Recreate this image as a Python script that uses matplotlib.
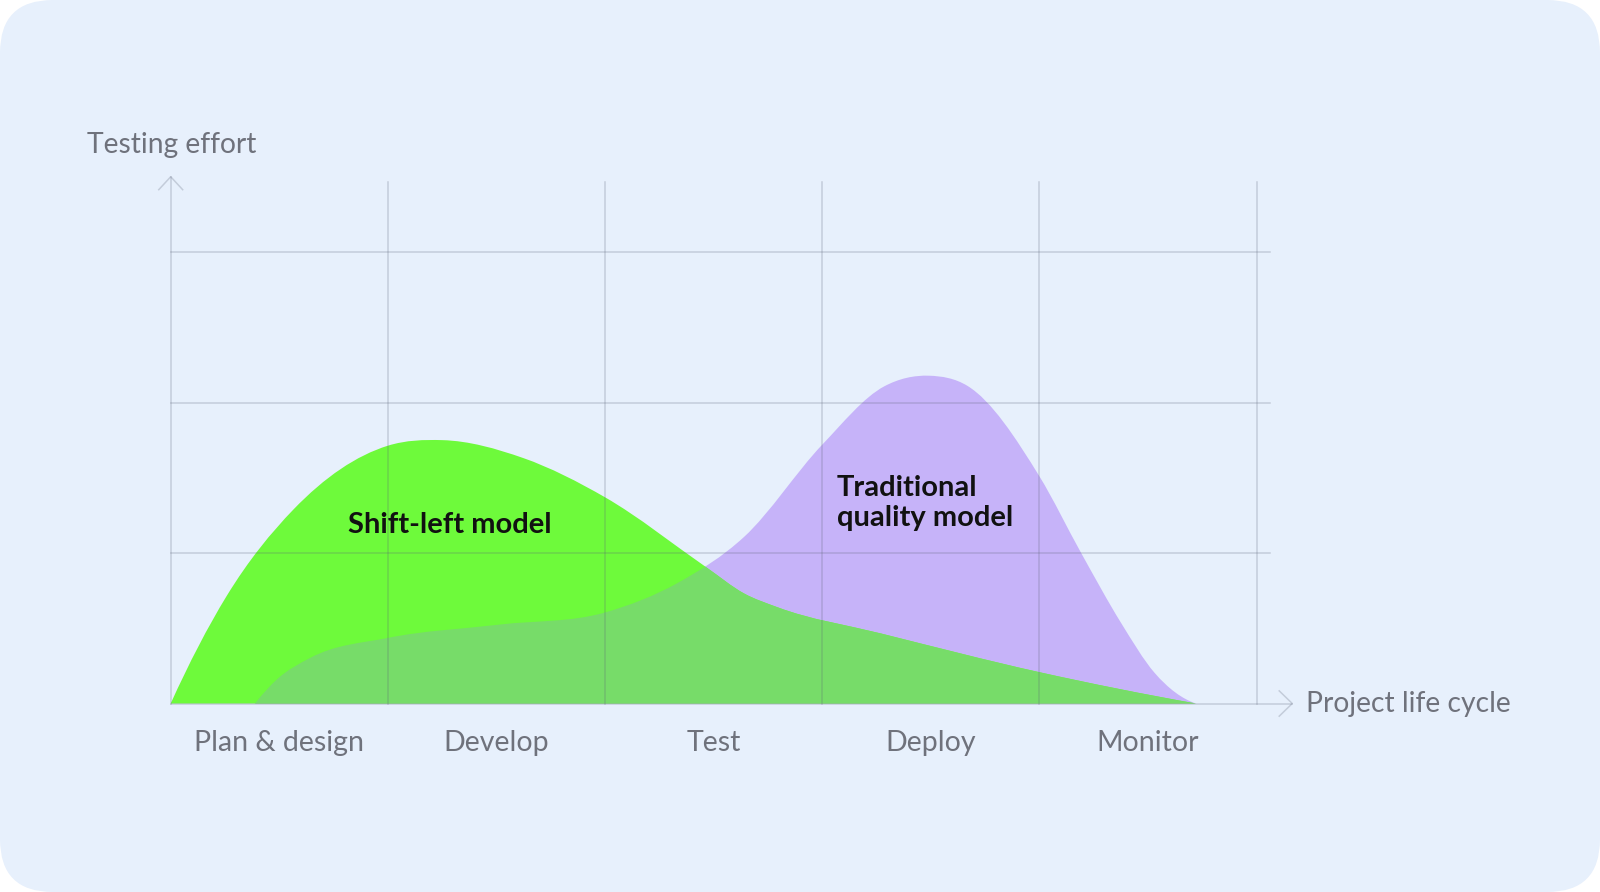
import numpy as np
import matplotlib.pyplot as plt
from matplotlib.path import Path
from matplotlib.patches import PathPatch, FancyBboxPatch

# values (x: phase units, y: grid units)
phases = ["Plan & design", "Develop", "Test", "Deploy", "Monitor"]

shift_x = [0, 0.257, 0.565, 1.0, 1.25, 1.623, 2.0, 2.467, 2.64, 2.793, 3.271, 4.0, 4.721]
shift_y = [0, 0.713, 1.289, 1.713, 1.75, 1.631, 1.37, 0.904, 0.731, 0.64, 0.465, 0.208, 0]

trad_x = [0.388, 0.488, 0.642, 1.0, 1.518, 2.0, 2.333, 2.64, 3.0, 3.285, 3.492,
          3.669, 4.0, 4.192, 4.376, 4.53, 4.721]
trad_y = [0, 0.159, 0.303, 0.436, 0.525, 0.605, 0.80, 1.107, 1.72, 2.107, 2.178,
          2.11, 1.509, 1.0, 0.535, 0.204, 0]

BG = '#E7F0FC'
GREEN = '#6EFA3B'
GREEN_DARK = '#77DC69'
PURPLE = '#C6B3F9'
GRID = '#5A6275'
TXT = '#6F727C'


def area_path(xs, ys):
    # smooth outline through the read points, closed along the baseline
    xs = np.asarray(xs, float)
    ys = np.asarray(ys, float)
    m = np.gradient(ys, xs, edge_order=2)
    verts = [(xs[0], ys[0])]
    codes = [Path.MOVETO]
    for i in range(len(xs) - 1):
        dx = xs[i + 1] - xs[i]
        verts += [(xs[i] + dx / 3, ys[i] + m[i] * dx / 3),
                  (xs[i + 1] - dx / 3, ys[i + 1] - m[i + 1] * dx / 3),
                  (xs[i + 1], ys[i + 1])]
        codes += [Path.CURVE4] * 3
    verts += [(xs[-1], 0), (xs[0], 0), (xs[0], 0)]
    codes += [Path.LINETO, Path.LINETO, Path.CLOSEPOLY]
    return Path(verts, codes)


fig = plt.figure(figsize=(16, 8.92), dpi=100)
fig.patch.set_facecolor('white')
bg = FancyBboxPatch((0, 0), 1, 1, boxstyle='round,pad=0,rounding_size=0.033',
                    mutation_aspect=1600 / 892, transform=fig.transFigure,
                    facecolor=BG, edgecolor='none', zorder=-10)
fig.patches.append(bg)

ax = fig.add_axes([0.1067, 0.2113, 0.6787, 0.5062])
ax.set_xlim(0, 5)
ax.set_ylim(0, 3)
ax.axis('off')

# areas
ax.add_patch(PathPatch(area_path(trad_x, trad_y), facecolor=PURPLE, edgecolor='none', zorder=1))
green = PathPatch(area_path(shift_x, shift_y), facecolor=GREEN, edgecolor='none', zorder=2)
ax.add_patch(green)
overlap = PathPatch(area_path(trad_x, trad_y), facecolor=GREEN_DARK, edgecolor='none', zorder=3)
ax.add_patch(overlap)
overlap.set_clip_path(green)

# grid
for gx in range(1, 6):
    ax.plot([gx, gx], [0, 3.467], color=GRID, alpha=0.25, lw=1.1, zorder=5, clip_on=False)
for gy in range(1, 4):
    ax.plot([0, 5.06], [gy, gy], color=GRID, alpha=0.25, lw=1.1, zorder=5, clip_on=False)

# axes with arrow heads
ax.plot([0, 5.164], [0, 0], color=GRID, alpha=0.25, lw=1.1, zorder=5, clip_on=False)
ax.plot([5.104, 5.164, 5.104], [0.084, 0, -0.084], color=GRID, alpha=0.25, lw=1.1,
        zorder=5, clip_on=False)
ax.plot([0, 0], [0, 3.50], color=GRID, alpha=0.25, lw=1.1, zorder=5, clip_on=False)
ax.plot([-0.055, 0, 0.055], [3.414, 3.50, 3.414], color=GRID, alpha=0.25, lw=1.1,
        zorder=5, clip_on=False)

# texts
ax.text(-0.384, 3.656, 'Testing effort', fontsize=20.3, family='Lato', color=TXT,
        ha='left', va='baseline')
ax.text(5.227, -0.058, 'Project life cycle', fontsize=20.3, family='Lato', color=TXT,
        ha='left', va='baseline')
for i, name in enumerate(phases):
    ax.text(i + 0.5, -0.314, name, fontsize=20.5, family='Lato', color=TXT,
            ha='center', va='baseline')

ax.text(1.285, 1.131, 'Shift-left model', fontsize=21, family='Lato', fontweight='bold',
        color='#111111', ha='center', va='baseline', zorder=6)
ax.text(3.068, 1.381, 'Traditional', fontsize=21, family='Lato', fontweight='bold',
        color='#111111', ha='left', va='baseline', zorder=6)
ax.text(3.068, 1.181, 'quality model', fontsize=21, family='Lato', fontweight='bold',
        color='#111111', ha='left', va='baseline', zorder=6)

fig.savefig('out.png', dpi=100, facecolor=fig.get_facecolor())
